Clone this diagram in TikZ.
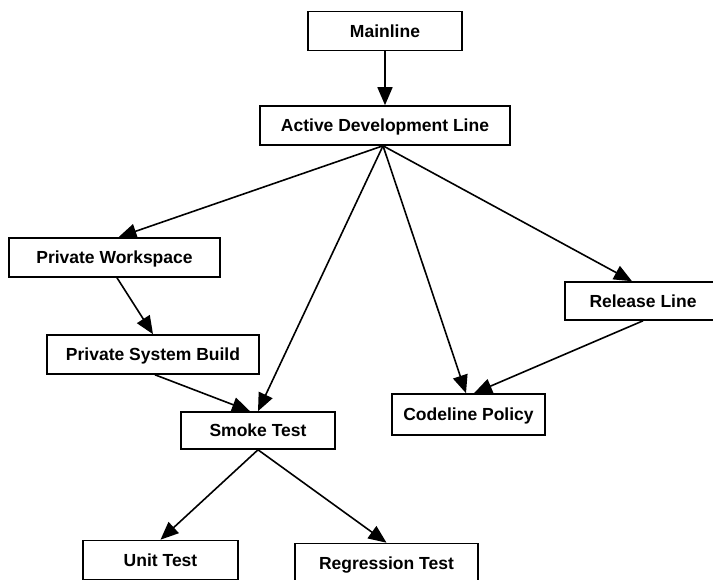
\documentclass[tikz,border=0pt]{standalone}
\usepackage{fontspec}
\setmainfont{Liberation Sans}
\usetikzlibrary{arrows.meta,calc}
\tikzset{
  box/.style={draw=black, line width=1.6pt, rectangle, inner sep=0pt, fill=white,
    text height=12.6pt, text depth=0pt,
    font=\fontsize{17.5}{20}\selectfont\bfseries},
  link/.style={draw=black, line width=1.6pt, -{Triangle[length=18pt,width=15pt]}}
}
\begin{document}
\begin{tikzpicture}[x=1pt,y=-1pt]
\useasboundingbox (0,0) rectangle (713,580);
\clip (0,0) rectangle (713,580);
\fill[white] (0,0) rectangle (713,580);
\node[box, minimum width=154pt, minimum height=39pt] (main) at (385,31) {Mainline};
\node[box, minimum width=250pt, minimum height=39pt] (adl) at (385,125.5) {Active Development Line};
\node[box, minimum width=211pt, minimum height=39pt] (pw) at (114.5,257.5) {Private Workspace};
\node[box, minimum width=212pt, minimum height=39pt] (psb) at (153,354.5) {Private System Build};
\node[box, minimum width=154pt, minimum height=37pt] (smoke) at (258,430.5) {Smoke Test};
\node[box, minimum width=153pt, minimum height=41pt] (cp) at (468.5,414.5) {Codeline Policy};
\node[box, minimum width=156pt, minimum height=38pt] (rl) at (643,301) {Release Line};
\node[box, minimum width=155pt, minimum height=39pt] (unit) at (160.5,560) {Unit Test};
\node[box, minimum width=183pt, minimum height=39pt] (reg) at (386.5,563) {Regression Test};

\draw[link] (main.south) -- (adl.north);
\draw[link] ($(adl.south)+(-2,0)$) -- ($(pw.north)+(4,0)$);
\draw[link] ($(adl.south)+(-2,0)$) -- (smoke.north);
\draw[link] ($(adl.south)+(-2,0)$) -- ($(cp.north)+(-2.5,0)$);
\draw[link] ($(adl.south)+(-2,0)$) -- ($(rl.north)+(-11,0)$);
\draw[link] ($(pw.south)+(2.5,0)$) -- (psb.north);
\draw[link] ($(psb.south)+(2,0)$) -- ($(smoke.north)+(-8,0)$);
\draw[link] (rl.south) -- ($(cp.north)+(5.5,0)$);
\draw[link] (smoke.south) -- (unit.north);
\draw[link] (smoke.south) -- (reg.north);
\end{tikzpicture}
\end{document}
